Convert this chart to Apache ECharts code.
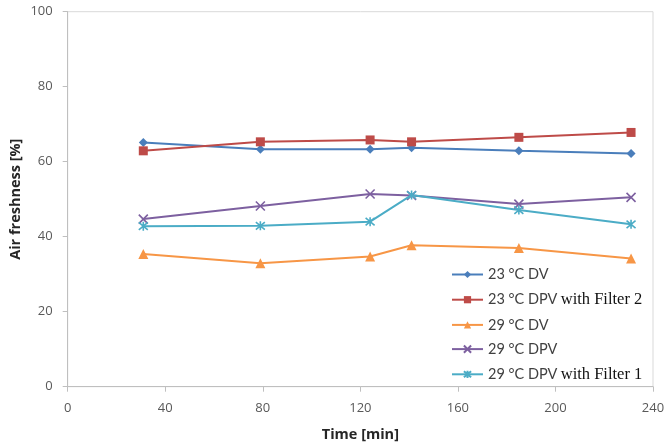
<!DOCTYPE html>
<html>
<head>
<meta charset="utf-8">
<script src="https://cdn.jsdelivr.net/npm/echarts@6/dist/echarts.min.js"></script>
<style>
html,body{margin:0;padding:0;background:#fff;}
#chart{width:668px;height:444px;}
</style>
</head>
<body>
<div id="chart"></div>
<script>
const timeMin = [31, 79, 124, 141, 185, 231];
const seriesNames = ['23 °C DV', '23 °C DPV with Filter 2', '29 °C DV', '29 °C DPV', '29 °C DPV with Filter 1'];
const dv23 = [65.1, 63.3, 63.3, 63.7, 62.9, 62.2];
const dpvF2_23 = [62.9, 65.3, 65.8, 65.3, 66.5, 67.8];
const dv29 = [35.4, 32.9, 34.7, 37.7, 37.0, 34.2];
const dpv29 = [44.7, 48.2, 51.4, 51.0, 48.7, 50.5];
const dpvF1_29 = [42.8, 42.9, 44.0, 51.1, 47.1, 43.3];
const xTicks = [0, 40, 80, 120, 160, 200, 240];
const yTicks = [0, 20, 40, 60, 80, 100];

const colors = ['#4A7EBB', '#BE4B48', '#F79646', '#7D60A0', '#4BACC6'];
const symbols = [
  'diamond',
  'rect',
  'triangle',
  'path://M0,0L10,10M10,0L0,10',
  'path://M0,0L10,10M10,0L0,10M5,-1L5,11'
];
const sizes = [9, 9, 10, 9, 9];
const values = [dv23, dpvF2_23, dv29, dpv29, dpvF1_29];

const series = seriesNames.map((name, i) => ({
  name: name,
  type: 'line',
  data: timeMin.map((t, j) => [t, values[i][j]]),
  symbol: symbols[i],
  symbolSize: sizes[i],
  showAllSymbol: true,
  lineStyle: { color: colors[i], width: 2 },
  itemStyle: {
    color: i >= 3 ? 'rgba(0,0,0,0)' : colors[i],
    borderColor: colors[i],
    borderWidth: i >= 3 ? 1.6 : 0
  },
  emphasis: { disabled: true },
  animation: false
}));

const chart = echarts.init(document.getElementById('chart'));
chart.setOption({
  backgroundColor: '#fff',
  animation: false,
  grid: {
    left: 67.7, right: 15, top: 11.7, bottom: 57.3,
    containLabel: false,
    outerBoundsMode: 'none',
    show: true, borderColor: '#d9d9d9', borderWidth: 1, backgroundColor: 'transparent'
  },
  legend: {
    orient: 'vertical',
    left: 446,
    top: 262,
    itemWidth: 31,
    itemHeight: 9,
    itemGap: 9.2,
    data: seriesNames,
    formatter: function (name) {
      const k = name.indexOf(' with ');
      if (k >= 0) {
        return '{a|' + name.slice(0, k) + '} {b|' + name.slice(k + 1) + '}';
      }
      return '{a|' + name + '}';
    },
    textStyle: {
      rich: {
        a: { fontFamily: 'Lato', fontSize: 14.5, color: '#404040', lineHeight: 16 },
        b: { fontFamily: 'Liberation Serif', fontSize: 16.5, color: '#111', lineHeight: 16 }
      }
    }
  },
  xAxis: {
    type: 'value',
    min: 0, max: 240, interval: 40,
    name: 'Time [min]',
    nameLocation: 'middle',
    nameGap: 41,
    nameMoveOverlap: false,
    nameTextStyle: { fontFamily: 'Open Sans', fontWeight: 'bold', fontSize: 14.5, color: '#262626' },
    axisLine: { show: true, lineStyle: { color: '#bfbfbf', width: 1 } },
    axisTick: { show: true, inside: false, length: 5, lineStyle: { color: '#bfbfbf' } },
    axisLabel: { margin: 15, fontFamily: 'Open Sans', fontSize: 13, color: '#595959' },
    splitLine: { show: false }
  },
  yAxis: {
    type: 'value',
    min: 0, max: 100, interval: 20,
    name: 'Air freshness [%]',
    nameLocation: 'middle',
    nameGap: 44,
    nameMoveOverlap: false,
    nameTextStyle: { fontFamily: 'Open Sans', fontWeight: 'bold', fontSize: 14.5, color: '#262626' },
    axisLine: { show: true, lineStyle: { color: '#bfbfbf', width: 1 } },
    axisTick: { show: true, inside: false, length: 5, lineStyle: { color: '#bfbfbf' } },
    axisLabel: { margin: 15, fontFamily: 'Open Sans', fontSize: 13, color: '#595959' },
    splitLine: { show: false }
  },
  series: series
});
</script>
</body>
</html>
